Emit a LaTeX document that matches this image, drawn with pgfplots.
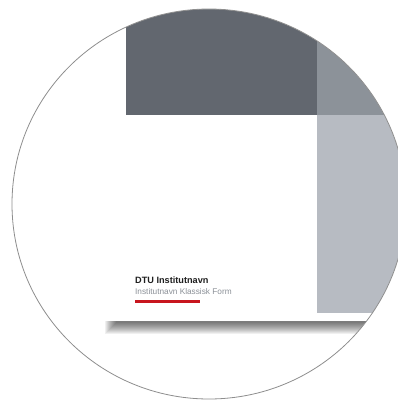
\documentclass[border=0pt]{standalone}
\usepackage{fontspec}
\setmainfont{Liberation Sans}
\usepackage{pgfplots}
\pgfplotsset{compat=1.18}
\definecolor{darkg}{HTML}{62676F}
\definecolor{midg}{HTML}{8C9299}
\definecolor{lightg}{HTML}{B7BBC2}
\definecolor{dtured}{HTML}{C8161E}
\definecolor{subg}{HTML}{8A8F96}
\definecolor{ring}{HTML}{8E8E8E}
\begin{document}
\begin{tikzpicture}
\useasboundingbox (0,0) rectangle (398bp,402bp);
\begin{axis}[
  width=398bp, height=402bp, scale only axis,
  xmin=0, xmax=398, ymin=0, ymax=402, y dir=reverse,
  hide axis, clip=true,
]
% grey blocks
\addplot[fill=darkg, draw=none] coordinates {(126,0) (317,0) (317,115) (126,115)} -- cycle;
\addplot[fill=midg, draw=none] coordinates {(317,0) (410,0) (410,115) (317,115)} -- cycle;
\addplot[fill=lightg, draw=none] coordinates {(317,115) (410,115) (410,313) (317,313)} -- cycle;
% page shadow
\foreach \k in {1,...,12}{
  \edef\tmp{\noexpand\fill[black, opacity=0.06] (axis cs:{104+\k},321) rectangle (axis cs:410,{335-\k});}
  \tmp
}
% red rule
\addplot[fill=dtured, draw=none] coordinates {(135,300) (200,300) (200,302.8) (135,302.8)} -- cycle;
% text
\node[anchor=base west, inner sep=0pt, font=\fontsize{9.2}{10}\selectfont\bfseries, text=black!88] at (axis cs:135,283.5) {DTU Institutnavn};
\node[anchor=base west, inner sep=0pt, font=\fontsize{8.3}{10}\selectfont, text=subg] at (axis cs:135,294) {Institutnavn Klassisk Form};
% mask outside circle
\fill[white, even odd rule] (axis cs:-5,-5) rectangle (axis cs:410,410)
  (axis cs:209,204) ellipse [x radius=197, y radius=195];
\draw[ring, line width=0.8bp] (axis cs:209,204) ellipse [x radius=197, y radius=195];
\end{axis}
\end{tikzpicture}
\end{document}
